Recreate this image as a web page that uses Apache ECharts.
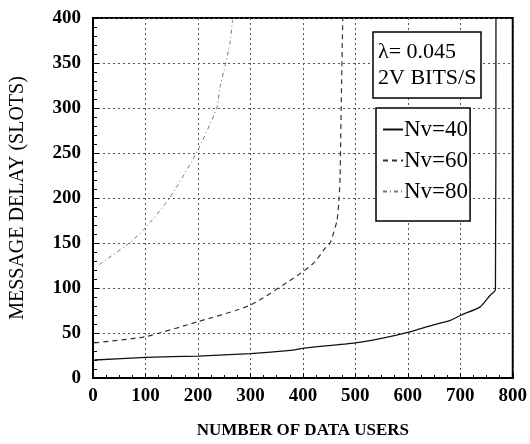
<!DOCTYPE html>
<html>
<head>
<meta charset="utf-8">
<script src="https://cdn.jsdelivr.net/npm/echarts@6/dist/echarts.min.js"></script>
<style>
  html, body { margin: 0; padding: 0; background: #fff; }
  #chart { width: 530px; height: 444px; }
</style>
</head>
<body>
<div id="chart"></div>
<script>
// Message delay versus number of data users for three voice-user loads
const usersNv40 = [3, 100, 200, 300, 376, 400, 500, 550, 600, 649, 681, 702, 738, 757, 767, 768];
const delayNv40 = [20, 23, 24.4, 27, 30.6, 33, 39, 44, 50.6, 59, 64, 70, 79, 92, 98, 400];

const usersNv60 = [3, 100, 200, 300, 395, 423, 442, 452, 465, 469, 471, 473, 476];
const delayNv60 = [39, 46, 62.6, 81, 116, 129, 144, 150, 175, 200, 225, 300, 400];

const usersNv80 = [12, 69, 97, 146, 197, 236, 242, 253, 261, 266];
const delayNv80 = [126, 150, 165, 200, 250, 300, 323, 350, 372, 398];

const seriesNames = ['Nv=40', 'Nv=60', 'Nv=80'];
const xTicks = { min: 0, max: 800, step: 100 };
const yTicks = { min: 0, max: 400, step: 50 };
const infoLines = ['λ= 0.045', '2V BITS/S'];

const pairs = (xs, ys) => xs.map((x, i) => [x, ys[i]]);
const serif = '"Liberation Serif", "DejaVu Serif", serif';

const chart = echarts.init(document.getElementById('chart'), null, { renderer: 'canvas' });

const gridLine = { show: true, lineStyle: { color: '#555', width: 1, type: [2, 3] } };

chart.setOption({
  animation: false,
  backgroundColor: '#fff',
  title: {
    text: infoLines.join('\n'),
    left: 373,
    top: 32,
    padding: [7, 5, 7, 5],
    borderColor: '#000',
    borderWidth: 1.5,
    backgroundColor: '#fff',
    textStyle: { fontFamily: serif, fontSize: 22, fontWeight: 'normal', color: '#000', lineHeight: 26 }
  },
  legend: {
    orient: 'vertical',
    left: 376,
    top: 108,
    padding: [10, 2, 18, 6],
    itemGap: 8,
    itemWidth: 20,
    itemHeight: 14,
    borderColor: '#000',
    borderWidth: 1.5,
    backgroundColor: '#fff',
    itemStyle: { opacity: 0, borderWidth: 0 },
    data: seriesNames,
    textStyle: { fontFamily: serif, fontSize: 23, color: '#000', padding: [0, 0, 0, -4] }
  },
  grid: {
    left: 93, right: 17, top: 18, bottom: 60,
    show: true, borderColor: '#000', borderWidth: 2, backgroundColor: 'transparent'
  },
  xAxis: {
    type: 'value',
    min: xTicks.min, max: xTicks.max, interval: xTicks.step,
    name: 'NUMBER OF DATA USERS',
    nameLocation: 'middle',
    nameGap: 44,
    nameTextStyle: { fontFamily: serif, fontSize: 17, fontWeight: 'bold', color: '#000' },
    axisLine: { show: true, lineStyle: { color: '#000', width: 2 } },
    axisTick: { show: true, inside: true, length: 5, lineStyle: { color: '#000' } },
    minorTick: { show: true, splitNumber: 4, length: 3, lineStyle: { color: '#000' } },
    axisLabel: { fontFamily: serif, fontSize: 19, fontWeight: 'bold', color: '#000', margin: 9 },
    splitLine: gridLine
  },
  yAxis: {
    type: 'value',
    min: yTicks.min, max: yTicks.max, interval: yTicks.step,
    name: 'MESSAGE DELAY (SLOTS)',
    nameLocation: 'middle',
    nameGap: 65,
    nameTextStyle: { fontFamily: serif, fontSize: 20, color: '#000' },
    axisLine: { show: true, lineStyle: { color: '#000', width: 2 } },
    axisTick: { show: true, inside: true, length: 6, lineStyle: { color: '#000' } },
    minorTick: { show: true, splitNumber: 5, length: 4, lineStyle: { color: '#000' } },
    axisLabel: { fontFamily: serif, fontSize: 19, fontWeight: 'bold', color: '#000', margin: 12 },
    splitLine: gridLine
  },
  series: [
    {
      name: seriesNames[0], type: 'line', symbol: 'none', smooth: 0.2,
      lineStyle: { color: '#111', width: 1.3, type: 'solid' },
      itemStyle: { color: '#111' },
      data: pairs(usersNv40, delayNv40)
    },
    {
      name: seriesNames[1], type: 'line', symbol: 'none', smooth: 0.2,
      lineStyle: { color: '#333', width: 1.2, type: [5, 4] },
      itemStyle: { color: '#333' },
      data: pairs(usersNv60, delayNv60)
    },
    {
      name: seriesNames[2], type: 'line', symbol: 'none', smooth: 0.2,
      lineStyle: { color: '#777', width: 1, type: [4, 3, 1, 3] },
      itemStyle: { color: '#777' },
      data: pairs(usersNv80, delayNv80)
    }
  ]
});
</script>
</body>
</html>
